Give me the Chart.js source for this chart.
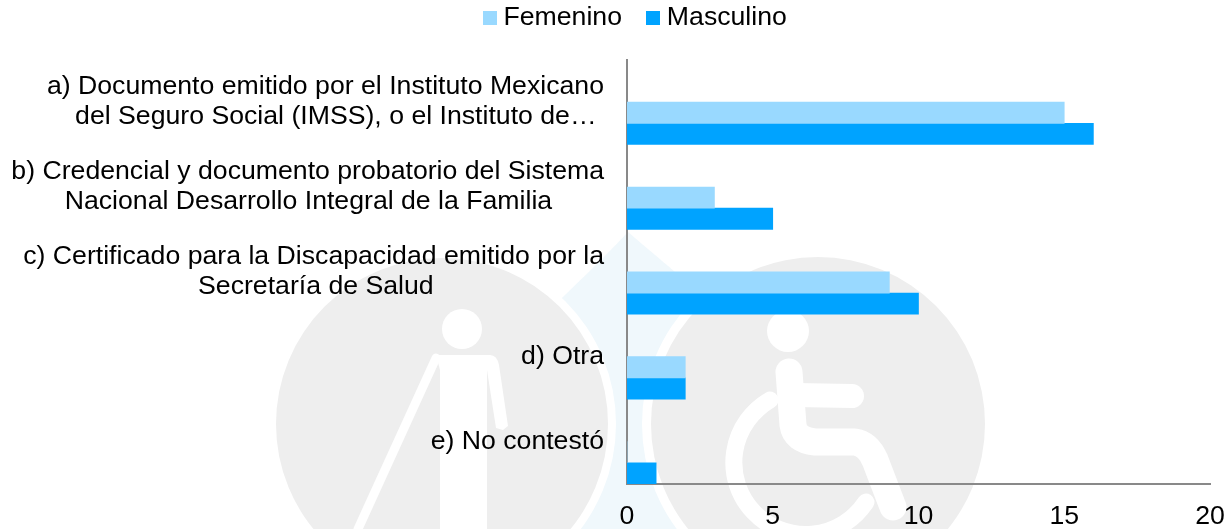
<!DOCTYPE html>
<html><head><meta charset="utf-8">
<script src="https://cdn.jsdelivr.net/npm/chart.js@4/dist/chart.umd.min.js"></script>
<style>
html,body{margin:0;padding:0;background:#fff;overflow:hidden}
#wrap{position:relative;width:1230px;height:529px}
#wm,#c{position:absolute;left:0;top:0}
</style></head><body>
<div id="wrap">
<svg id="wm" width="1230" height="529" viewBox="0 0 1230 529">
  <path d="M628 232 C600 262 575 285 555 305 L540 529 L745 529 L745 340 C700 290 660 260 628 232Z" fill="#f0f8fc"/>
  <circle cx="442" cy="424" r="174" fill="#fff"/>
  <circle cx="442" cy="424" r="166" fill="#eeeeee"/>
  <circle cx="818" cy="424" r="176" fill="#fff"/>
  <circle cx="818" cy="424" r="167" fill="#eeeeee"/>
  <g fill="#fff" stroke="#fff" stroke-linecap="round" stroke-linejoin="round">
    <circle cx="462" cy="329" r="20" stroke="none"/>
    <path d="M436 355 H490 Q497 355 499 365 L508 426 L503 430 L496 428 L487 370 V529 H440 V370 Z" stroke="none"/>
    <path d="M436 358 L358 529" fill="none" stroke-width="9"/>
    <circle cx="788" cy="331" r="21" stroke="none"/>
    <path d="M789 372 L793 425 Q795 440 815 442 L855 442 Q868 444 875 460 L893 507" fill="none" stroke-width="27"/>
    <path d="M795 395 L852 396" fill="none" stroke-width="24"/>
    <path d="M770 400 A72 72 0 1 0 866 502" fill="none" stroke-width="17"/>
  </g>
</svg>
<canvas id="c" width="1230" height="529"></canvas>
</div>
<script>
const categories = [
  ["a) Documento emitido por el Instituto Mexicano", "del Seguro Social (IMSS), o el Instituto de… "],
  ["b) Credencial y documento probatorio del Sistema", "Nacional Desarrollo Integral de la Familia       "],
  ["c) Certificado para la Discapacidad emitido por la", "Secretaría de Salud                       "],
  "d) Otra",
  "e) No contestó"
];
const femenino = [15, 3, 9, 2, 0];
const masculino = [16, 5, 10, 2, 1];
const xTicks = [0, 5, 10, 15, 20];
const colorFem = "#99d9ff";
const colorMas = "#00a3ff";
const fontFamily = '"Liberation Sans", Arial, sans-serif';

function swatch(color){
  const s = document.createElement("canvas");
  s.width = 14; s.height = 14;
  const g = s.getContext("2d");
  g.fillStyle = color; g.fillRect(0,0,14,14);
  return s;
}

const moveLegend = {
  id: "moveLegend",
  beforeDraw(chart){
    const l = chart.legend;
    if (l._moved) return;
    l._moved = true;
    const draw = l.draw;
    l.draw = function(){
      chart.ctx.save();
      chart.ctx.translate(33, -18.5);
      draw.call(l);
      chart.ctx.restore();
    };
  }
};

new Chart(document.getElementById("c"), {
  type: "bar",
  data: {
    labels: categories,
    datasets: [
      {label: "", data: []},
      {label: "", data: []},
      {label: "Femenino", data: femenino, backgroundColor: colorFem},
      {label: "Masculino", data: masculino, backgroundColor: colorMas}
    ]
  },
  plugins: [moveLegend],
  options: {
    indexAxis: "y",
    responsive: false,
    animation: false,
    events: [],
    layout: {padding: {top: -7.5, right: 20, bottom: -4, left: 0}},
    datasets: {bar: {categoryPercentage: 1, barPercentage: 1, borderWidth: 0}},
    plugins: {
      tooltip: {enabled: false},
      legend: {
        position: "top",
        align: "center",
        labels: {
          color: "#000",
          font: {family: fontFamily, size: 26.67},
          boxWidth: 1,
          boxHeight: 14,
          padding: 30.5,
          usePointStyle: true,
          generateLabels(chart){
            return Chart.defaults.plugins.legend.labels.generateLabels(chart)
              .filter(i => i.text)
              .map(i => Object.assign(i, {pointStyle: swatch(i.fillStyle)}));
          }
        }
      }
    },
    scales: {
      x: {
        min: 0, max: 20,
        afterBuildTicks(a){ a.ticks = xTicks.map(v => ({value: v})); },
        afterFit(a){ a.height = 46; a.paddingRight = 0; a.paddingLeft = 0; },
        grid: {display: false},
        border: {display: true, color: "#898989", width: 2},
        ticks: {color: "#000", font: {family: fontFamily, size: 26.67}, padding: 9, maxRotation: 0}
      },
      y: {
        afterFit(a){ a.width = 627; },
        grid: {display: false},
        border: {display: true, color: "#898989", width: 2},
        ticks: {color: "#000", font: {family: fontFamily, size: 26.67, lineHeight: "30px"}, padding: 15, autoSkip: false}
      }
    }
  }
});
</script>
</body></html>
